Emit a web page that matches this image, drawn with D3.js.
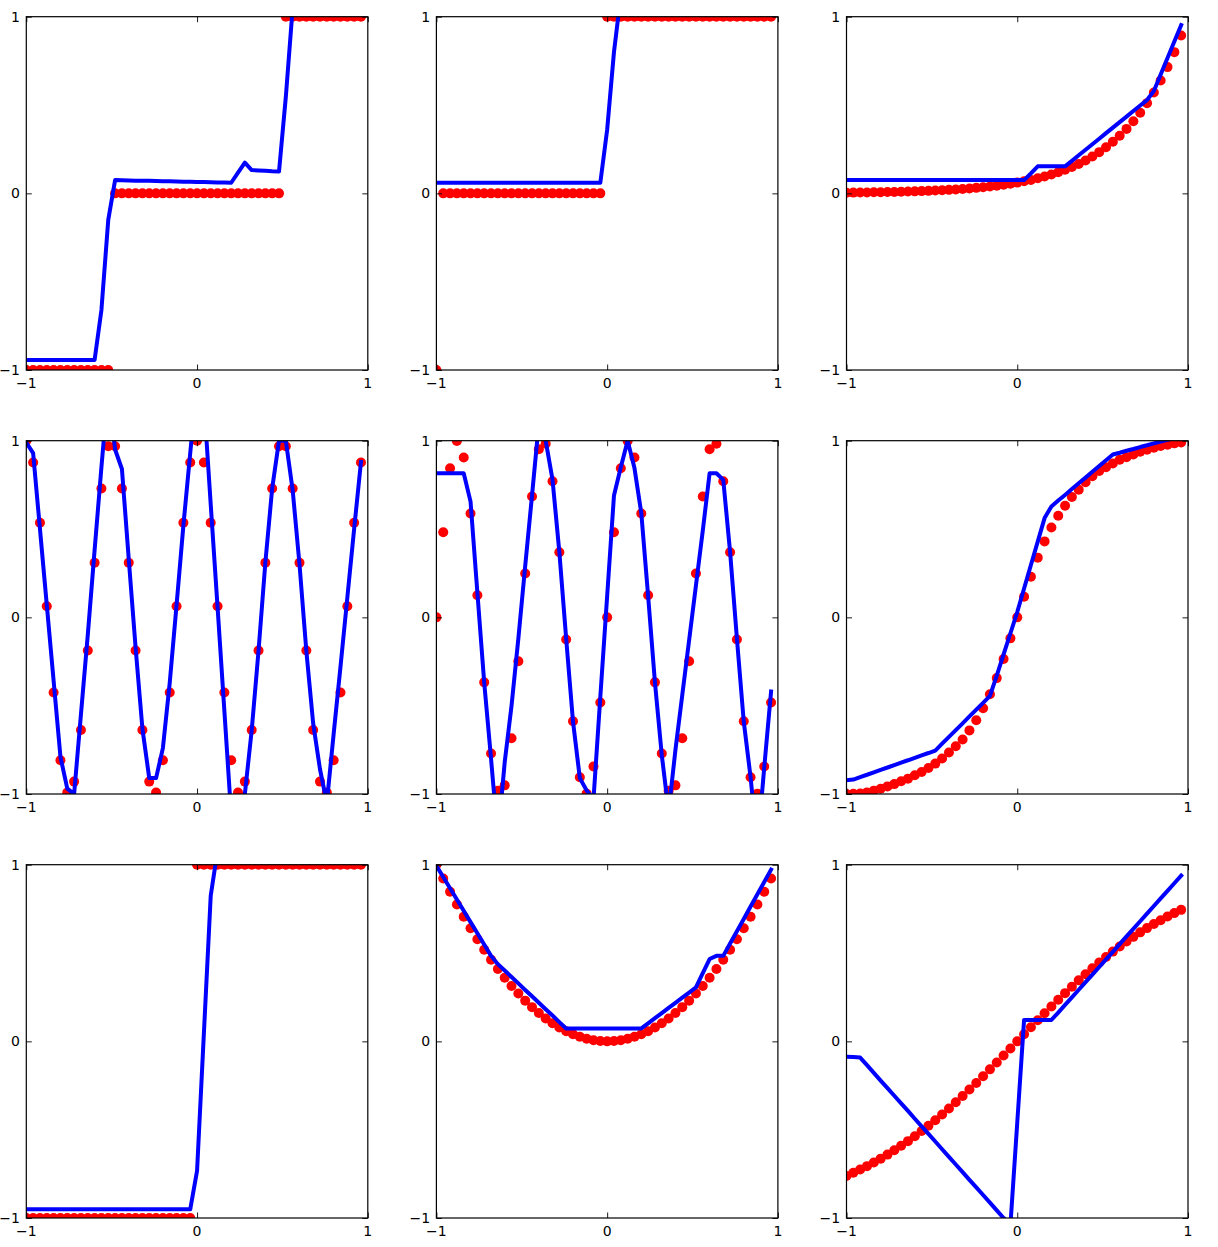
<!DOCTYPE html>
<html><head><meta charset="utf-8">
<script src="https://cdn.jsdelivr.net/npm/d3@7"></script>
<style>body{margin:0;background:#fff}svg{display:block}text.tl{font-family:'DejaVu Sans',sans-serif;font-size:14px;fill:#000}</style>
</head><body>
<svg id="chart" width="1218" height="1247"></svg>
<script>
// ---------- data ----------
const xs = [-1,-0.96,-0.92,-0.88,-0.84,-0.8,-0.76,-0.72,-0.68,-0.64,-0.6,-0.56,-0.52,-0.48,-0.44,-0.4,-0.36,-0.32,-0.28,-0.24,-0.2,-0.16,-0.12,-0.08,-0.04,0,0.04,0.08,0.12,0.16,0.2,0.24,0.28,0.32,0.36,0.4,0.44,0.48,0.52,0.56,0.6,0.64,0.68,0.72,0.76,0.8,0.84,0.88,0.92,0.96];
const tickValues = [-1, 0, 1];
const tickLabels = ["\u22121", "0", "1"];

const redRound = [-1,-1,-1,-1,-1,-1,-1,-1,-1,-1,-1,-1,-1,0,0,0,0,0,0,0,0,0,0,0,0,0,0,0,0,0,0,0,0,0,0,0,0,0,1,1,1,1,1,1,1,1,1,1,1,1];
const blueRound = [-0.943,-0.943,-0.943,-0.943,-0.943,-0.943,-0.943,-0.943,-0.943,-0.943,-0.943,-0.66,-0.15,0.075,0.074,0.073,0.072,0.071,0.071,0.07,0.069,0.068,0.067,0.066,0.065,0.064,0.064,0.063,0.062,0.061,0.06,0.117,0.174,0.132,0.13,0.128,0.125,0.123,0.547,1.05,1.1,1.1,1.1,1.1,1.1,1.1,1.1,1.1,1.1,1.1];

const redCeil = [-1,0,0,0,0,0,0,0,0,0,0,0,0,0,0,0,0,0,0,0,0,0,0,0,0,1,1,1,1,1,1,1,1,1,1,1,1,1,1,1,1,1,1,1,1,1,1,1,1,1];
const blueCeil = [0.06,0.06,0.06,0.06,0.06,0.06,0.06,0.06,0.06,0.06,0.06,0.06,0.06,0.06,0.06,0.06,0.06,0.06,0.06,0.06,0.06,0.06,0.06,0.06,0.06,0.36,0.8,1.12,1.2,1.2,1.2,1.2,1.2,1.2,1.2,1.2,1.2,1.2,1.2,1.2,1.2,1.2,1.2,1.2,1.2,1.2,1.2,1.2,1.2,1.2];

const redExp = [0.0037,0.00414,0.00463,0.00517,0.00579,0.00647,0.00724,0.0081,0.00906,0.01013,0.01133,0.01268,0.01418,0.01586,0.01774,0.01984,0.02219,0.02482,0.02776,0.03105,0.03474,0.03885,0.04346,0.04861,0.05437,0.06081,0.06802,0.07608,0.0851,0.09518,0.10646,0.11908,0.13319,0.14897,0.16663,0.18637,0.20846,0.23317,0.2608,0.29171,0.32628,0.36495,0.4082,0.45658,0.51069,0.57121,0.6389,0.71462,0.79932,0.89404];
const blueExp = [0.075,0.075,0.075,0.075,0.075,0.075,0.075,0.075,0.075,0.075,0.075,0.075,0.075,0.075,0.075,0.075,0.075,0.075,0.075,0.075,0.075,0.075,0.075,0.075,0.075,0.075,0.075,0.113,0.153,0.153,0.153,0.153,0.153,0.184,0.216,0.247,0.278,0.309,0.341,0.372,0.403,0.434,0.466,0.497,0.528,0.579,0.673,0.766,0.86,0.953];

const redCos = [1,0.8763,0.5358,0.0628,-0.4258,-0.809,-0.9921,-0.9298,-0.6374,-0.1874,0.309,0.729,0.9686,0.9686,0.729,0.309,-0.1874,-0.6374,-0.9298,-0.9921,-0.809,-0.4258,0.0628,0.5358,0.8763,1,0.8763,0.5358,0.0628,-0.4258,-0.809,-0.9921,-0.9298,-0.6374,-0.1874,0.309,0.729,0.9686,0.9686,0.729,0.309,-0.1874,-0.6374,-0.9298,-0.9921,-0.809,-0.4258,0.0628,0.5358,0.8763];
const blueCos = [0.99,0.93,0.5,0.07,-0.36,-0.79,-0.97,-1.0,-0.55,-0.1,0.38,0.85,1.3,0.95,0.84,0.33,-0.17,-0.63,-0.91,-0.91,-0.74,-0.37,0.07,0.52,0.93,1.33,1.23,0.64,0.06,-0.53,-1.12,-1.4,-1.0,-0.64,-0.19,0.31,0.73,1.0,1.0,0.72,0.3,-0.19,-0.6,-0.86,-1.05,-0.66,-0.28,0.11,0.5,0.88];

const redSin = [0,0.4818,0.8443,0.998,0.9048,0.5878,0.1253,-0.3681,-0.7705,-0.9823,-0.9511,-0.6845,-0.2487,0.2487,0.6845,0.9511,0.9823,0.7705,0.3681,-0.1253,-0.5878,-0.9048,-0.998,-0.8443,-0.4818,0,0.4818,0.8443,0.998,0.9048,0.5878,0.1253,-0.3681,-0.7705,-0.9823,-0.9511,-0.6845,-0.2487,0.2487,0.6845,0.9511,0.9823,0.7705,0.3681,-0.1253,-0.5878,-0.9048,-0.998,-0.8443,-0.4818];
const blueSin = [0.816,0.816,0.816,0.816,0.816,0.655,0.14,-0.37,-0.8,-1.25,-0.82,-0.5,-0.12,0.29,0.69,1.1,1.0,0.78,0.37,-0.12,-0.59,-0.91,-0.98,-1.03,-0.45,0.12,0.69,0.85,1.0,0.845,0.59,0.12,-0.37,-0.78,-1.1,-0.75,-0.44,-0.13,0.18,0.49,0.816,0.816,0.778,0.37,-0.12,-0.59,-0.905,-1.3,-0.85,-0.42];

const redSig = [-1,-0.999,-0.997,-0.991,-0.981,-0.97,-0.957,-0.944,-0.928,-0.913,-0.894,-0.875,-0.853,-0.828,-0.799,-0.765,-0.73,-0.691,-0.64,-0.583,-0.515,-0.435,-0.344,-0.236,-0.119,0,0.117,0.23,0.338,0.43,0.509,0.575,0.632,0.681,0.723,0.765,0.799,0.828,0.85,0.871,0.892,0.907,0.922,0.937,0.949,0.96,0.97,0.977,0.985,0.99];
const blueSig = [-0.922,-0.918,-0.904,-0.891,-0.877,-0.863,-0.85,-0.836,-0.822,-0.809,-0.795,-0.781,-0.768,-0.754,-0.715,-0.677,-0.638,-0.6,-0.561,-0.522,-0.484,-0.445,-0.33,-0.21,-0.09,0.03,0.163,0.296,0.429,0.562,0.628,0.661,0.693,0.726,0.759,0.791,0.824,0.857,0.889,0.922,0.932,0.943,0.953,0.964,0.974,0.985,0.995,1.005,1.015,1.025];

const redSign = [-1,-1,-1,-1,-1,-1,-1,-1,-1,-1,-1,-1,-1,-1,-1,-1,-1,-1,-1,-1,-1,-1,-1,-1,-1,1,1,1,1,1,1,1,1,1,1,1,1,1,1,1,1,1,1,1,1,1,1,1,1,1];
const blueSign = [-0.951,-0.951,-0.951,-0.951,-0.951,-0.951,-0.951,-0.951,-0.951,-0.951,-0.951,-0.951,-0.951,-0.951,-0.951,-0.951,-0.951,-0.951,-0.951,-0.951,-0.951,-0.951,-0.951,-0.951,-0.951,-0.733,0.045,0.824,1.08,1.1,1.1,1.1,1.1,1.1,1.1,1.1,1.1,1.1,1.1,1.1,1.1,1.1,1.1,1.1,1.1,1.1,1.1,1.1,1.1,1.1];

const redSq = [1,0.9216,0.8464,0.7744,0.7056,0.64,0.5776,0.5184,0.4624,0.4096,0.36,0.3136,0.2704,0.2304,0.1936,0.16,0.1296,0.1024,0.0784,0.0576,0.04,0.0256,0.0144,0.0064,0.0016,0,0.0016,0.0064,0.0144,0.0256,0.04,0.0576,0.0784,0.1024,0.1296,0.16,0.1936,0.2304,0.2704,0.3136,0.36,0.4096,0.4624,0.5184,0.5776,0.64,0.7056,0.7744,0.8464,0.9216];
const blueSq = [0.994,0.93,0.867,0.803,0.739,0.675,0.612,0.548,0.484,0.437,0.401,0.364,0.328,0.291,0.255,0.219,0.182,0.146,0.109,0.073,0.073,0.073,0.073,0.073,0.073,0.073,0.073,0.073,0.073,0.073,0.073,0.102,0.131,0.16,0.189,0.218,0.247,0.276,0.305,0.386,0.466,0.484,0.484,0.554,0.623,0.693,0.763,0.833,0.902,0.972];

const redTanh = [-0.7616,-0.7443,-0.7259,-0.7064,-0.6858,-0.664,-0.6411,-0.6169,-0.5915,-0.5649,-0.537,-0.508,-0.4777,-0.4462,-0.4136,-0.3799,-0.3452,-0.3095,-0.2729,-0.2355,-0.1974,-0.1586,-0.1194,-0.0798,-0.04,0,0.04,0.0798,0.1194,0.1586,0.1974,0.2355,0.2729,0.3095,0.3452,0.3799,0.4136,0.4462,0.4777,0.508,0.537,0.5649,0.5915,0.6169,0.6411,0.664,0.6858,0.7064,0.7259,0.7443];
const blueTanh = [-0.087,-0.089,-0.092,-0.135,-0.178,-0.222,-0.265,-0.308,-0.351,-0.394,-0.438,-0.481,-0.524,-0.567,-0.611,-0.654,-0.697,-0.74,-0.784,-0.827,-0.87,-0.913,-0.957,-1.0,-1.04,-0.46,0.121,0.121,0.121,0.121,0.121,0.163,0.206,0.249,0.292,0.335,0.378,0.421,0.464,0.507,0.55,0.594,0.637,0.68,0.723,0.766,0.809,0.852,0.895,0.938];

const panels = [
  {red: redRound, blue: blueRound},
  {red: redCeil,  blue: blueCeil},
  {red: redExp,   blue: blueExp},
  {red: redCos,   blue: blueCos},
  {red: redSin,   blue: blueSin},
  {red: redSig,   blue: blueSig},
  {red: redSign,  blue: blueSign},
  {red: redSq,    blue: blueSq},
  {red: redTanh,  blue: blueTanh}
];

// ---------- layout ----------
const svg = d3.select("#chart");
svg.append("rect").attr("width", 1218).attr("height", 1247).attr("fill", "#fff");
const left0 = 26.3, colStep = 410.1, top0 = 16.7, rowStep = 424;
const W = 341.5, H = 353.3;
const TICK = 5.5;

panels.forEach((p, k) => {
  const col = k % 3, row = Math.floor(k / 3);
  const g = svg.append("g").attr("transform", `translate(${left0 + col * colStep},${top0 + row * rowStep})`);
  const x = d3.scaleLinear().domain([-1, 1]).range([0, W]);
  const y = d3.scaleLinear().domain([-1, 1]).range([H, 0]);

  const clipId = "clip" + k;
  g.append("clipPath").attr("id", clipId).append("rect")
    .attr("x", 0).attr("y", 0).attr("width", W).attr("height", H);

  const plot = g.append("g").attr("clip-path", `url(#${clipId})`);
  plot.selectAll("circle").data(xs).join("circle")
    .attr("cx", d => x(d))
    .attr("cy", (d, i) => y(p.red[i]))
    .attr("r", 5)
    .attr("fill", "#ff0000");

  const line = d3.line().x(d => x(d)).y((d, i) => y(p.blue[i]));
  plot.append("path").datum(xs)
    .attr("d", line)
    .attr("fill", "none")
    .attr("stroke", "#0000ff")
    .attr("stroke-width", 4)
    .attr("stroke-linejoin", "round")
    .attr("stroke-linecap", "square");

  // inward ticks on all four sides (no labels from axis)
  const ax = [
    g.append("g").attr("transform", `translate(0,${H})`).call(d3.axisBottom(x).tickValues(tickValues).tickFormat("").tickSize(-TICK)),
    g.append("g").call(d3.axisLeft(y).tickValues(tickValues).tickFormat("").tickSize(-TICK)),
    g.append("g").call(d3.axisTop(x).tickValues(tickValues).tickFormat("").tickSize(-TICK)),
    g.append("g").attr("transform", `translate(${W},0)`).call(d3.axisRight(y).tickValues(tickValues).tickFormat("").tickSize(-TICK))
  ];
  ax.forEach(a => {
    a.select(".domain").remove();
    a.selectAll("text").remove();
    a.selectAll("line").attr("stroke", "#000").attr("stroke-width", 0.9);
  });

  // tick labels
  g.selectAll("text.xl").data(tickValues).join("text")
    .attr("class", "tl xl")
    .attr("x", d => x(d)).attr("y", H + 18.5)
    .attr("text-anchor", "middle")
    .text((d, i) => tickLabels[i]);
  g.selectAll("text.yl").data(tickValues).join("text")
    .attr("class", "tl yl")
    .attr("x", -6.3).attr("y", d => y(d) + 5)
    .attr("text-anchor", "end")
    .text((d, i) => tickLabels[i]);

  g.append("rect").attr("x", 0).attr("y", 0).attr("width", W).attr("height", H)
    .attr("fill", "none").attr("stroke", "#000").attr("stroke-width", 1.2);
});
</script>
</body></html>
